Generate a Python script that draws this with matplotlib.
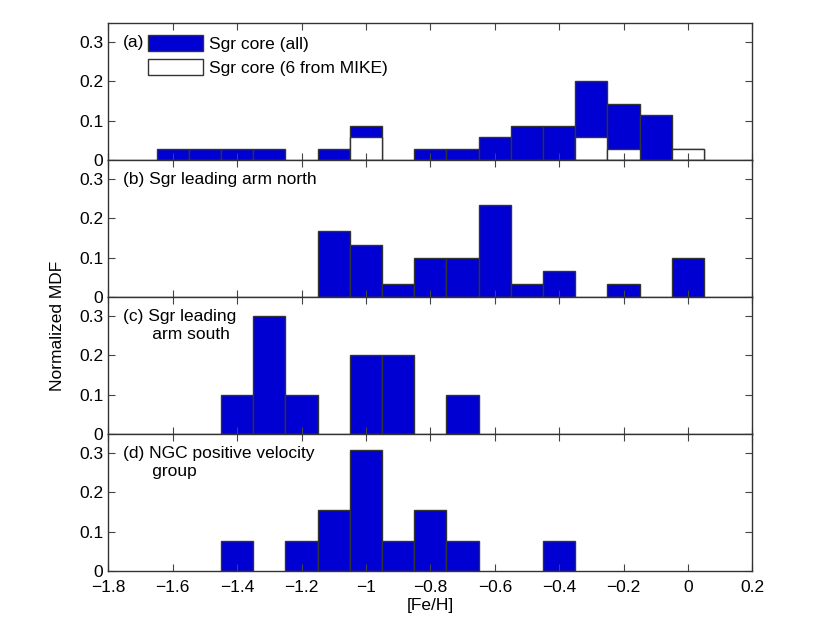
import numpy as np
import matplotlib
matplotlib.use("Agg")
import matplotlib.pyplot as plt
from matplotlib.patches import Patch

plt.rcParams['font.family'] = ['Liberation Sans', 'DejaVu Sans']
plt.rcParams['font.size'] = 12.5

# bin centres in [Fe/H], 0.1 dex wide
centers = np.round(np.arange(-1.6, 0.01, 0.1), 2)

# counts per bin (normalised below)
core_all = [1, 1, 1, 1, 0, 1, 3, 0, 1, 1, 2, 3, 3, 7, 5, 4, 1]
core_mike = [0, 0, 0, 0, 0, 0, 2, 0, 0, 0, 0, 0, 0, 2, 1, 0, 1]
lead_north = [0, 0, 0, 0, 0, 5, 4, 1, 3, 3, 7, 1, 2, 0, 1, 0, 3]
lead_south = [0, 0, 1, 3, 1, 0, 2, 2, 0, 1, 0, 0, 0, 0, 0, 0, 0]
ngc_pos = [0, 0, 1, 0, 1, 2, 4, 1, 2, 1, 0, 0, 1, 0, 0, 0, 0]

labels = ["(b) Sgr leading arm north",
          "(c) Sgr leading\n      arm south",
          "(d) NGC positive velocity\n      group"]
xticklabels = ['\u22121.8', '\u22121.6', '\u22121.4', '\u22121.2', '\u22121',
               '\u22120.8', '\u22120.6', '\u22120.4', '\u22120.2', '0', '0.2']

blue = '#0000d2'
edge = '#333333'

fig = plt.figure(figsize=(8.3, 6.24), dpi=100)
left, width = 0.1305, 0.776
top, bottom = 0.9636, 0.0854
h = (top - bottom) / 4
axes = [fig.add_axes([left, top - (i + 1) * h, width, h]) for i in range(4)]


def style(ax):
    ax.set_xlim(-1.8, 0.2)
    ax.set_ylim(0, 0.35)
    ax.set_yticks([0, 0.1, 0.2, 0.3])
    ax.set_yticklabels(['0', '0.1', '0.2', '0.3'])
    ax.set_xticks(np.arange(-1.8, 0.21, 0.2))
    ax.tick_params(direction='in', top=True, right=True, length=5,
                   color='#444444', labelsize=12.5)
    ax.tick_params(axis='x', pad=7)
    for s in ax.spines.values():
        s.set_color('#333333')
        s.set_linewidth(1.0)


def histbar(ax, counts, n, color):
    counts = np.array(counts)
    keep = counts > 0
    ax.bar(centers[keep], counts[keep] / n, width=0.1, color=color,
           edgecolor=edge, linewidth=1.0, align='center')


# (a) Sgr core
ax = axes[0]
n_core = sum(core_all)
histbar(ax, core_all, n_core, blue)
histbar(ax, core_mike, n_core, 'white')
ax.text(-1.755, 0.3, "(a)", va='center', ha='left')
handles = [Patch(facecolor=blue, edgecolor=edge), Patch(facecolor='white', edgecolor=edge)]
ax.legend(handles, ["Sgr core (all)", "Sgr core (6 from MIKE)"], loc='upper left',
          bbox_to_anchor=(0.045, 0.99), frameon=False, handlelength=3.2,
          handleheight=1.1, handletextpad=0.35, labelspacing=0.4, fontsize=12.5,
          borderaxespad=0.2)

for ax, counts, lab in zip(axes[1:], [lead_north, lead_south, ngc_pos], labels):
    histbar(ax, counts, sum(counts), blue)
    if '\n' in lab:
        ax.text(-1.755, 0.319, lab, va='top', ha='left', linespacing=1.3)
    else:
        ax.text(-1.755, 0.3, lab, va='center', ha='left')

for ax in axes:
    style(ax)
for ax in axes[:-1]:
    ax.set_xticklabels([])
axes[-1].set_xticklabels(xticklabels)
axes[-1].set_xlabel("[Fe/H]", fontsize=12.5, labelpad=2)
fig.text(0.069, 0.478, "Normalized MDF", rotation=90, va='center', ha='center', fontsize=12.5)

fig.savefig("out.png", dpi=100)
